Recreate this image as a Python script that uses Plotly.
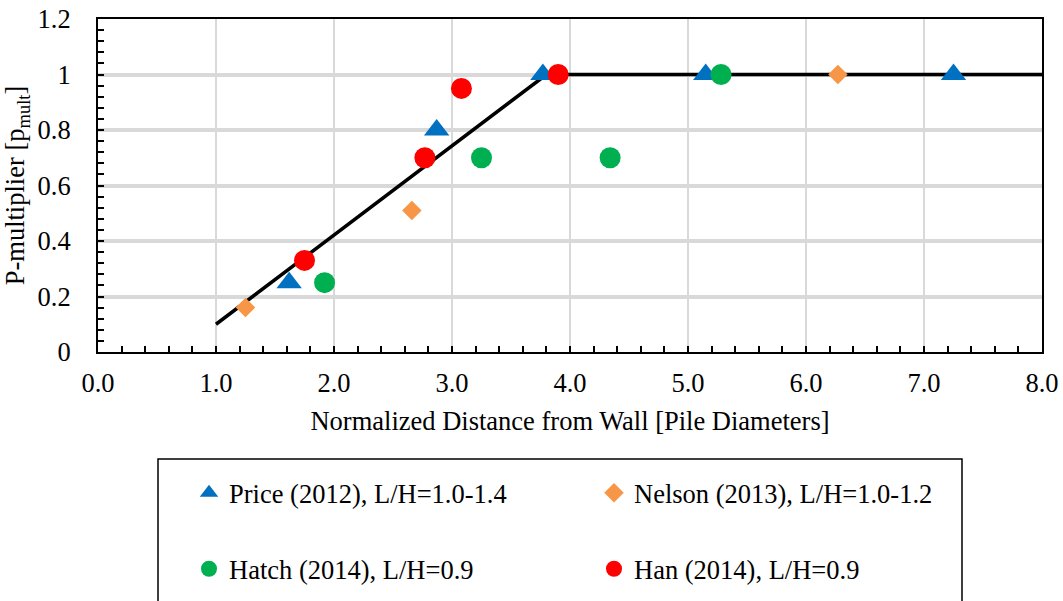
import plotly.graph_objects as go

# ---- data ----
price_x = [1.62, 2.87, 3.77, 5.15, 7.25]
price_y = [0.25, 0.80, 1.00, 1.00, 1.00]
nelson_x = [1.25, 2.66, 6.27]
nelson_y = [0.16, 0.51, 1.00]
hatch_x = [1.92, 3.25, 4.34, 5.28]
hatch_y = [0.25, 0.70, 0.70, 1.00]
han_x = [1.75, 2.77, 3.08, 3.90]
han_y = [0.33, 0.70, 0.95, 1.00]
trend_x = [1.0, 3.8, 8.0]
trend_y = [0.1, 1.0, 1.0]

y_tickvals = [0, 0.2, 0.4, 0.6, 0.8, 1.0, 1.2]
y_ticktext = ["0", "0.2", "0.4", "0.6", "0.8", "1", "1.2"]
x_tickvals = [0, 1, 2, 3, 4, 5, 6, 7, 8]

FONT = "Liberation Serif, Times New Roman, serif"
FS = 26.5

fig = go.Figure()
fig.add_trace(go.Scatter(x=trend_x, y=trend_y, mode="lines",
                         line=dict(color="black", width=3.5), showlegend=False, hoverinfo="skip"))
fig.add_trace(go.Scatter(x=price_x, y=price_y, mode="markers", name="Price (2012), L/H=1.0-1.4",
                         marker=dict(symbol="triangle-up", size=22, color="#0070C0"), legend="legend"))
fig.add_trace(go.Scatter(x=nelson_x, y=nelson_y, mode="markers", name="Nelson (2013), L/H=1.0-1.2",
                         marker=dict(symbol="diamond", size=15, color="#F79646"), legend="legend"))
fig.add_trace(go.Scatter(x=hatch_x, y=hatch_y, mode="markers", name="Hatch (2014), L/H=0.9",
                         marker=dict(symbol="circle", size=21, color="#00B050"), legend="legend2"))
fig.add_trace(go.Scatter(x=han_x, y=han_y, mode="markers", name="Han (2014), L/H=0.9",
                         marker=dict(symbol="circle", size=21, color="#FF0000"), legend="legend2"))

W, H = 1063, 601
L, R, T, B = 98, 21, 19, 249
pw = W - L - R
ph = H - T - B

def px_x(p):
    return (p - L) / pw

def px_y(p):
    return (H - B - p) / ph

legend_common = dict(orientation="h", xanchor="left", yanchor="middle",
                     font=dict(family=FONT, size=FS, color="black"),
                     bgcolor="rgba(0,0,0,0)", borderwidth=0,
                     entrywidth=360, entrywidthmode="pixels", itemsizing="trace")

fig.update_layout(
    width=W, height=H,
    margin=dict(l=L, r=R, t=T, b=B, pad=0, autoexpand=False),
    paper_bgcolor="white", plot_bgcolor="white",
    font=dict(family=FONT, size=FS, color="black"),
    legend=dict(x=px_x(189), y=px_y(493), **legend_common),
    legend2=dict(x=px_x(189), y=px_y(569), **legend_common),
    xaxis=dict(range=[0, 8], tickvals=x_tickvals, tickformat=".1f",
               showgrid=True, gridcolor="#D9D9D9", gridwidth=1.5,
               showline=True, linecolor="black", linewidth=2, mirror=True,
               ticks="inside", ticklen=6, tickcolor="black", tickwidth=1.5,
               minor=dict(dtick=0.2, ticks="inside", ticklen=6, tickcolor="black", tickwidth=1.5, showgrid=False),
               zeroline=False, ticklabelstandoff=6, automargin=False,
               title=dict(text="Normalized Distance from Wall [Pile Diameters]",
                          font=dict(family=FONT, size=FS), standoff=15)),
    yaxis=dict(range=[0, 1.2], tickvals=y_tickvals, ticktext=y_ticktext,
               showgrid=True, gridcolor="#D9D9D9", gridwidth=3.5,
               showline=True, linecolor="black", linewidth=2, mirror=True,
               ticks="inside", ticklen=6, tickcolor="black", tickwidth=1.5,
               minor=dict(dtick=0.04, ticks="inside", ticklen=6, tickcolor="black", tickwidth=1.5, showgrid=False),
               zeroline=False, ticklabelstandoff=20, automargin=False,
               title=dict(text="P-multiplier [p<sub>mult</sub>]",
                          font=dict(family=FONT, size=FS), standoff=10)),
    shapes=[dict(type="rect", xref="paper", yref="paper",
                 x0=px_x(158), x1=px_x(962), y0=px_y(459), y1=px_y(640),
                 line=dict(color="black", width=1.5), fillcolor="rgba(0,0,0,0)", layer="above")],
)

fig.write_html("out.html")
